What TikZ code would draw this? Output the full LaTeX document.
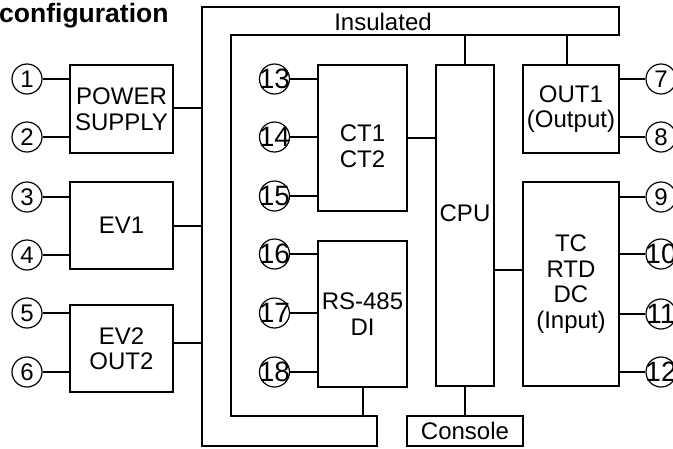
\documentclass[tikz,border=0pt]{standalone}
\usepackage{fontspec}
\setmainfont{Liberation Sans}
\begin{document}
\begin{tikzpicture}[x=1pt,y=-1pt,
  box/.style={draw,line width=1.6pt,inner sep=0pt,align=center,font=\fontsize{24}{25.5}\selectfont},
  lbl/.style={inner sep=0pt,align=center,font=\fontsize{24}{25.5}\selectfont},
  term/.style={draw,circle,line width=1.2pt,minimum size=30pt,inner sep=0pt},
  one/.style={term,label={[inner sep=0pt,font=\fontsize{24}{24}\selectfont]center:#1}},
  two/.style={term,label={[inner sep=0pt,font=\fontsize{28}{28}\selectfont]center:#1}},
  wire/.style={line width=1.6pt}]
\useasboundingbox (0,0) rectangle (673,448);

% title
\node[anchor=base west,inner sep=0pt,font=\fontsize{26.5}{27}\selectfont\bfseries] (title) at (-1,22) {configuration};

% insulated bus
\coordinate (busOL) at (202,7);
\coordinate (busIT) at (231,35);
\coordinate (busIB) at (231,416);
\draw[wire,line join=miter] (202,7) -- (619,7) -- (619,35) -- (231,35) -- (231,416) -- (377,416) -- (377,446) -- (202,446) -- cycle;
\node[lbl] (insl) at (383,22) {Insulated};

% left boxes
\node[box,minimum width=103pt,minimum height=88pt] (ps) at (121.5,109) {POWER\\SUPPLY};
\node[box,minimum width=103pt,minimum height=87pt] (ev1) at (121.5,225.5) {EV1};
\node[box,minimum width=103pt,minimum height=87pt] (ev2) at (121.5,348.5) {EV2\\OUT2};

% inner boxes
\node[box,minimum width=89pt,minimum height=146pt] (ct) at (362.5,138) {};
\node[lbl] (ctl) at (362.5,146) {CT1\\CT2};
\node[box,minimum width=89pt,minimum height=146pt] (rs) at (362.5,314) {RS-485\\DI};
\node[box,minimum width=58pt,minimum height=321pt] (cpu) at (465,225.5) {};
\node[lbl] (cpul) at (465,213) {CPU};
\node[box,minimum width=96pt,minimum height=88pt] (out1) at (571,109) {OUT1\\(Output)};
\node[box,minimum width=96pt,minimum height=204pt] (tc) at (571,284) {TC\\RTD\\DC\\(Input)};
\node[box,minimum width=116pt,minimum height=30pt] (con) at (465,431) {Console};

% terminals left
\node[one=1] (t1) at (27,79) {};
\node[one=2] (t2) at (27,137) {};
\node[one=3] (t3) at (27,197) {};
\node[one=4] (t4) at (27,255) {};
\node[one=5] (t5) at (27,313) {};
\node[one=6] (t6) at (27,372) {};
% terminals middle
\node[two=13] (t13) at (274.5,79) {};
\node[two=14] (t14) at (274.5,137) {};
\node[two=15] (t15) at (274.5,196) {};
\node[two=16] (t16) at (274.5,254) {};
\node[two=17] (t17) at (274.5,313) {};
\node[two=18] (t18) at (274.5,372) {};
% terminals right
\node[one=7] (t7) at (661,79) {};
\node[one=8] (t8) at (661,137) {};
\node[one=9] (t9) at (661,197) {};
\node[two=10] (t10) at (661,254) {};
\node[two=11] (t11) at (661,314) {};
\node[two=12] (t12) at (661,372) {};

% terminal wires
\draw[wire] (t1) -- (t1 -| ps.west);
\draw[wire] (t2) -- (t2 -| ps.west);
\draw[wire] (t3) -- (t3 -| ev1.west);
\draw[wire] (t4) -- (t4 -| ev1.west);
\draw[wire] (t5) -- (t5 -| ev2.west);
\draw[wire] (t6) -- (t6 -| ev2.west);
\draw[wire] (t13) -- (t13 -| ct.west);
\draw[wire] (t14) -- (t14 -| ct.west);
\draw[wire] (t15) -- (t15 -| ct.west);
\draw[wire] (t16) -- (t16 -| rs.west);
\draw[wire] (t17) -- (t17 -| rs.west);
\draw[wire] (t18) -- (t18 -| rs.west);
\draw[wire] (t7) -- (t7 -| out1.east);
\draw[wire] (t8) -- (t8 -| out1.east);
\draw[wire] (t9) -- (t9 -| tc.east);
\draw[wire] (t10) -- (t10 -| tc.east);
\draw[wire] (t11) -- (t11 -| tc.east);
\draw[wire] (t12) -- (t12 -| tc.east);

% bus connections
\draw[wire] ([yshift=1pt]ps.east) -- ([yshift=1pt]ps.east -| busOL);
\draw[wire] ([yshift=-0.5pt]ev1.east) -- ([yshift=-0.5pt]ev1.east -| busOL);
\draw[wire] ([yshift=5.5pt]ev2.east) -- ([yshift=5.5pt]ev2.east -| busOL);
\draw[wire] (cpu.north) -- (cpu.north |- busIT);
\draw[wire] ([xshift=-4pt]out1.north) -- ([xshift=-4pt]out1.north |- busIT);
\draw[wire] ([xshift=0.5pt]rs.south) -- ([xshift=0.5pt]rs.south |- busIB);
\draw[wire] (ct.east) -- (ct.east -| cpu.west);
\draw[wire] ([yshift=14pt]tc.west) -- ([yshift=14pt]tc.west -| cpu.east);
\draw[wire] (cpu.south) -- (con.north);
\end{tikzpicture}
\end{document}
